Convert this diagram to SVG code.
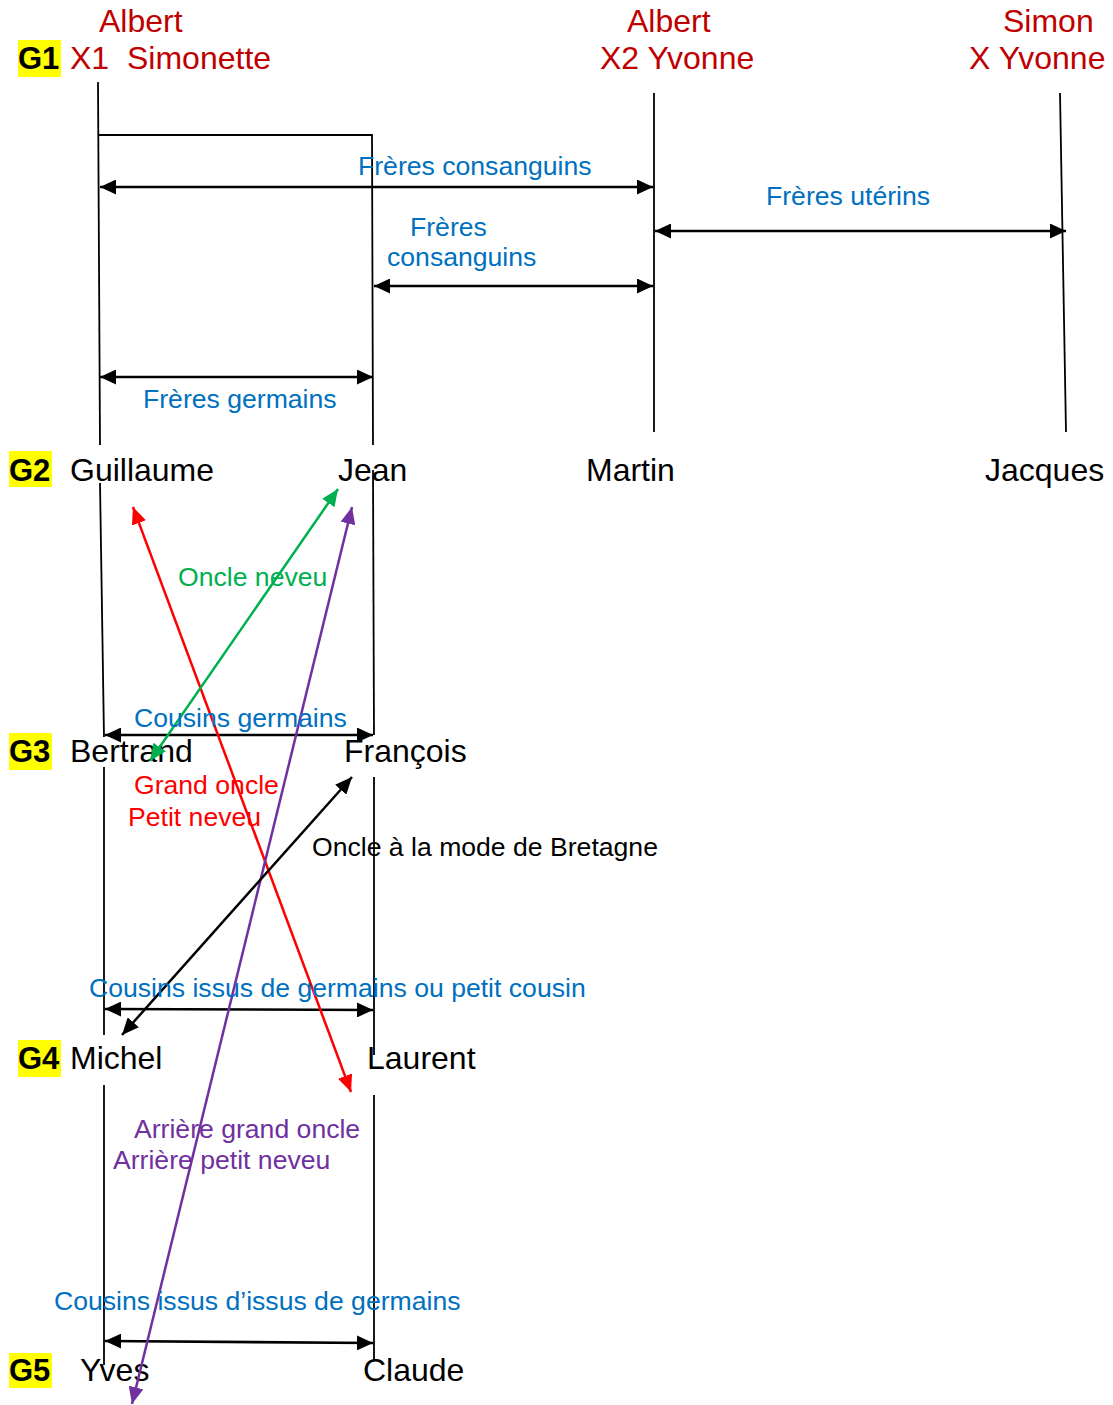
<svg xmlns="http://www.w3.org/2000/svg" width="1113" height="1405" viewBox="0 0 1113 1405">
<style>
text{font-family:"Liberation Sans",Arial,sans-serif}
.nm{font-size:32px;fill:#000}
.par{font-size:32px;fill:#C00000}
.g{font-size:31px;font-weight:bold;fill:#000}
.hl{fill:#FFFF00}
.lb{font-size:26.6px;fill:#0070C0}
.rd{font-size:26.6px;fill:#FF0000}
.gr{font-size:26.6px;fill:#00B050}
.pu{font-size:26.6px;fill:#7030A0}
.bk{font-size:26.6px;fill:#000}
.v{stroke:#000;stroke-width:1.8;fill:none}
.h{stroke:#000;stroke-width:2.6;fill:none;marker-start:url(#ak);marker-end:url(#ak)}
</style>
<defs>
<marker id="ak" markerUnits="userSpaceOnUse" markerWidth="16" markerHeight="15" refX="16" refY="7.5" orient="auto-start-reverse"><path d="M0,0 L16,7.5 L0,15 z" fill="#000"/></marker>
<marker id="ar" markerUnits="userSpaceOnUse" markerWidth="17" markerHeight="15" refX="17" refY="7.5" orient="auto-start-reverse"><path d="M0,0 L17,7.5 L0,15 z" fill="#FF0000"/></marker>
<marker id="ag" markerUnits="userSpaceOnUse" markerWidth="17" markerHeight="15" refX="17" refY="7.5" orient="auto-start-reverse"><path d="M0,0 L17,7.5 L0,15 z" fill="#00B050"/></marker>
<marker id="ap" markerUnits="userSpaceOnUse" markerWidth="17" markerHeight="15" refX="17" refY="7.5" orient="auto-start-reverse"><path d="M0,0 L17,7.5 L0,15 z" fill="#7030A0"/></marker>
<marker id="ab" markerUnits="userSpaceOnUse" markerWidth="17" markerHeight="15" refX="17" refY="7.5" orient="auto-start-reverse"><path d="M0,0 L17,7.5 L0,15 z" fill="#000"/></marker>
</defs>
<rect width="1113" height="1405" fill="#fff"/>

<g id="gen-labels">
<rect class="hl" x="18" y="40" width="43" height="37"/><text class="g" x="18" y="69">G1</text>
<rect class="hl" x="9" y="451" width="43" height="36"/><text class="g" x="9" y="481">G2</text>
<rect class="hl" x="9" y="733" width="43" height="37"/><text class="g" x="9" y="762">G3</text>
<rect class="hl" x="18" y="1040" width="43" height="37"/><text class="g" x="18" y="1069">G4</text>
<rect class="hl" x="9" y="1353" width="43" height="35"/><text class="g" x="9" y="1381">G5</text>
</g>

<g id="couple1"><text class="par" x="99" y="32">Albert</text><text class="par" x="70" y="69">X1</text><text class="par" x="127" y="69">Simonette</text></g>
<g id="couple2"><text class="par" x="627" y="32">Albert</text><text class="par" x="600" y="69">X2 Yvonne</text></g>
<g id="couple3"><text class="par" x="1003" y="32">Simon</text><text class="par" x="969" y="69">X Yvonne</text></g>

<g id="guillaume"><text class="nm" x="70" y="481">Guillaume</text></g>
<g id="jean"><text class="nm" x="338" y="481">Jean</text></g>
<g id="martin"><text class="nm" x="586" y="481">Martin</text></g>
<g id="jacques"><text class="nm" x="985" y="481">Jacques</text></g>
<g id="bertrand"><text class="nm" x="70" y="762">Bertrand</text></g>
<g id="francois"><text class="nm" x="344" y="762">François</text></g>
<g id="michel"><text class="nm" x="70" y="1069">Michel</text></g>
<g id="laurent"><text class="nm" x="367" y="1069">Laurent</text></g>
<g id="yves"><text class="nm" x="80" y="1381">Yves</text></g>
<g id="claude"><text class="nm" x="363" y="1381">Claude</text></g>

<g id="connectors">
<path class="v" d="M98,82 L100,445"/>
<path class="v" d="M98,135 L372,135 L373,445"/>
<path class="v" d="M654,93 L654,432"/>
<path class="v" d="M1060,93 L1066,432"/>
<path class="v" d="M100,483 L104,737"/>
<path class="v" d="M104,767 L104,1035"/>
<path class="v" d="M104,1085 L104,1365"/>
<path class="v" d="M373,470 L374,735"/>
<path class="v" d="M374,777 L374,1055"/>
<path class="v" d="M374,1095 L374,1360"/>

<line class="h" x1="100" y1="187" x2="653" y2="187"/>
<line class="h" x1="655" y1="231" x2="1066" y2="231"/>
<line class="h" x1="374" y1="286" x2="653" y2="286"/>
<line class="h" x1="100" y1="377" x2="373" y2="377"/>
<line class="h" x1="105" y1="735" x2="373" y2="735"/>
<line class="h" x1="105" y1="1009" x2="373" y2="1010"/>
<line class="h" x1="105" y1="1341" x2="373" y2="1343"/>

<line x1="133" y1="507" x2="351" y2="1092" stroke="#FF0000" stroke-width="2.5" marker-start="url(#ar)" marker-end="url(#ar)"/>
<line x1="150" y1="761" x2="338" y2="489" stroke="#00B050" stroke-width="2.5" marker-start="url(#ag)" marker-end="url(#ag)"/>
<line x1="352" y1="507" x2="132" y2="1404" stroke="#7030A0" stroke-width="2.5" marker-start="url(#ap)" marker-end="url(#ap)"/>
<line x1="352" y1="777" x2="122" y2="1035" stroke="#000" stroke-width="2.5" marker-start="url(#ab)" marker-end="url(#ab)"/>

<text class="lb" x="358" y="175">Frères consanguins</text>
<text class="lb" x="766" y="205">Frères utérins</text>
<text class="lb" x="410" y="236">Frères</text>
<text class="lb" x="387" y="266">consanguins</text>
<text class="lb" x="143" y="408">Frères germains</text>
<text class="gr" x="178" y="586">Oncle neveu</text>
<text class="lb" x="134" y="727">Cousins germains</text>
<text class="rd" x="134" y="794">Grand oncle</text>
<text class="rd" x="128" y="826">Petit neveu</text>
<text class="bk" x="312" y="856">Oncle à la mode de Bretagne</text>
<text class="lb" x="89" y="997">Cousins issus de germains ou petit cousin</text>
<text class="pu" x="134" y="1138">Arrière grand oncle</text>
<text class="pu" x="113" y="1169">Arrière petit neveu</text>
<text class="lb" x="54" y="1310">Cousins issus d’issus de germains</text>
</g>
</svg>
